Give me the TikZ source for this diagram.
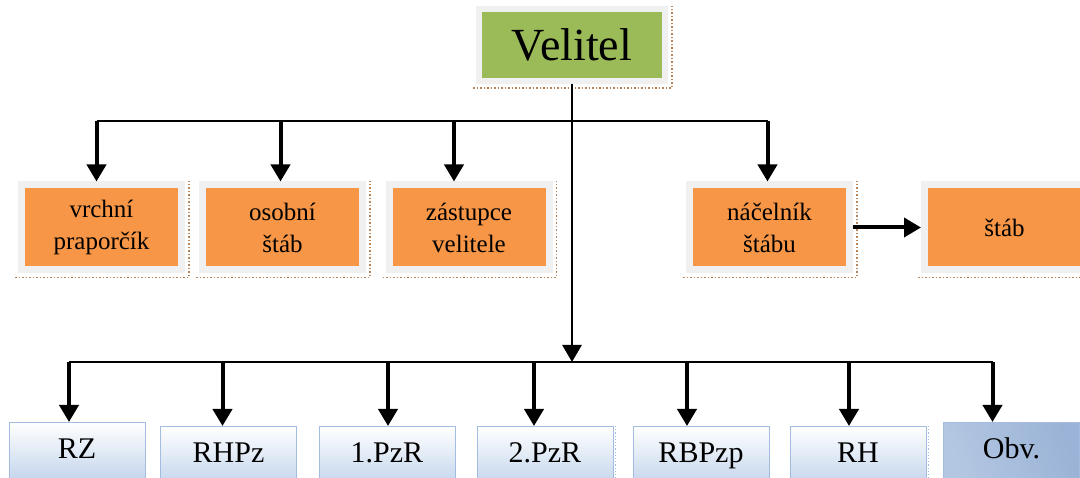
\documentclass[tikz,border=0pt]{standalone}
\usepackage{fontspec}
\setmainfont{Liberation Serif}
\usetikzlibrary{arrows.meta, positioning, calc}
\definecolor{boxgreen}{HTML}{9BBB59}
\definecolor{boxorange}{HTML}{F79646}
\definecolor{rimgray}{HTML}{F0F0F0}
\definecolor{boxblue}{HTML}{C3D5EC}
\definecolor{edgeblue}{HTML}{A3BDE0}
\definecolor{obvdark}{HTML}{9AB3D6}
\definecolor{obvmid}{HTML}{B4C7E2}
\definecolor{obvlight}{HTML}{DFE7F2}
\definecolor{shadowbrown}{HTML}{B8865A}

\begin{document}
\begin{tikzpicture}[x=1pt, y=-1pt,
    chief/.style={rectangle, draw=rimgray, line width=6pt, fill=boxgreen, minimum width=186pt, minimum height=72pt, font=\fontsize{46}{50}\selectfont},
    staff/.style={rectangle, draw=rimgray, line width=7pt, fill=boxorange, minimum width=160pt, minimum height=85pt, align=center, font=\fontsize{25}{32}\selectfont},
    unit/.style={rectangle, anchor=north, draw=edgeblue, line width=1pt, top color=white, bottom color=boxblue, minimum width=136pt, minimum height=58pt, text height=20pt, text depth=6pt, font=\fontsize{30}{34}\selectfont},
    arrow/.style={-{Triangle[length=17pt, width=19pt]}, line width=4pt},
    bus/.style={line width=2.2pt},
    shadowline/.style={draw=shadowbrown, dotted, line width=1.5pt}
]
    \useasboundingbox[fill=white] (0,0) rectangle (1080,478);

    % Commander
    \node[chief] (velitel) at (572, 45) {Velitel};

    % Staff row
    \node[staff] (vrchni) at (101.5, 227.5) {vrchní\\praporčík};
    \node[staff] (osobni) at (282.5, 227.5) {osobní\\štáb};
    \node[staff] (zastupce) at (469, 227.5) {zástupce\\velitele};
    \node[staff] (nacelnik) at (769.5, 227.5) {náčelník\\štábu};
    \node[staff] (stab) at (1004.5, 227.5) {štáb};

    % dotted shadows
    \foreach \n in {velitel, vrchni, osobni, zastupce, nacelnik}
        \draw[shadowline] ([shift={(-3pt,-4pt)}]\n.south west) -- ([shift={(4pt,-4pt)}]\n.south east) -- ([xshift=4pt]\n.north east);
    \draw[shadowline] ([shift={(-3pt,-4pt)}]stab.south west) -- ([shift={(4pt,-4pt)}]stab.south east);

    % Units row
    \node[unit] (rz) at (77, 422) {RZ};
    \node[unit] (rhpz) at (228.5, 426) {RHPz};
    \node[unit] (pzr1) at (387, 426) {1.PzR};
    \node[unit] (pzr2) at (545, 426) {2.PzR};
    \node[unit] (rbpzp) at (701, 426) {RBPzp};
    \node[unit] (rh) at (858, 426) {RH};
    \node[unit, left color=obvmid, middle color=obvlight, right color=obvdark, shading angle=110] (obv) at (1011.5, 422) {Obv.};
    \draw[edgeblue, dotted, line width=1.2pt] ([xshift=2pt]pzr2.north east) -- ([xshift=2pt]pzr2.south east);
    \draw[edgeblue, dotted, line width=1.2pt] ([xshift=2pt]rh.north east) -- ([xshift=2pt]rh.south east);

    % Buses
    \coordinate (topbus) at (0, 121);
    \coordinate (botbus) at (0, 362);

    % Trunk from commander
    \draw[arrow, line width=2.8pt] (velitel.south) -- (velitel.south |- botbus);

    % Upper branch
    \draw[bus] ([xshift=-5pt]vrchni.north |- topbus) -- ([xshift=-2pt]nacelnik.north |- topbus);
    \foreach \n/\dx in {vrchni/-5, osobni/-2, zastupce/-15, nacelnik/-2}
        \draw[arrow] ([xshift=\dx pt]\n.north |- topbus) -- ([xshift=\dx pt]\n.north);
    \draw[arrow] (nacelnik) -- (stab);

    % Lower branch
    \draw[bus] ([xshift=-8pt]rz.north |- botbus) -- ([xshift=-19pt]obv.north |- botbus);
    \foreach \n/\dx in {rz/-8, rhpz/-6, pzr1/1, pzr2/-11, rbpzp/-14, rh/-9, obv/-19}
        \draw[arrow] ([xshift=\dx pt]\n.north |- botbus) -- ([xshift=\dx pt]\n.north);
\end{tikzpicture}
\end{document}
